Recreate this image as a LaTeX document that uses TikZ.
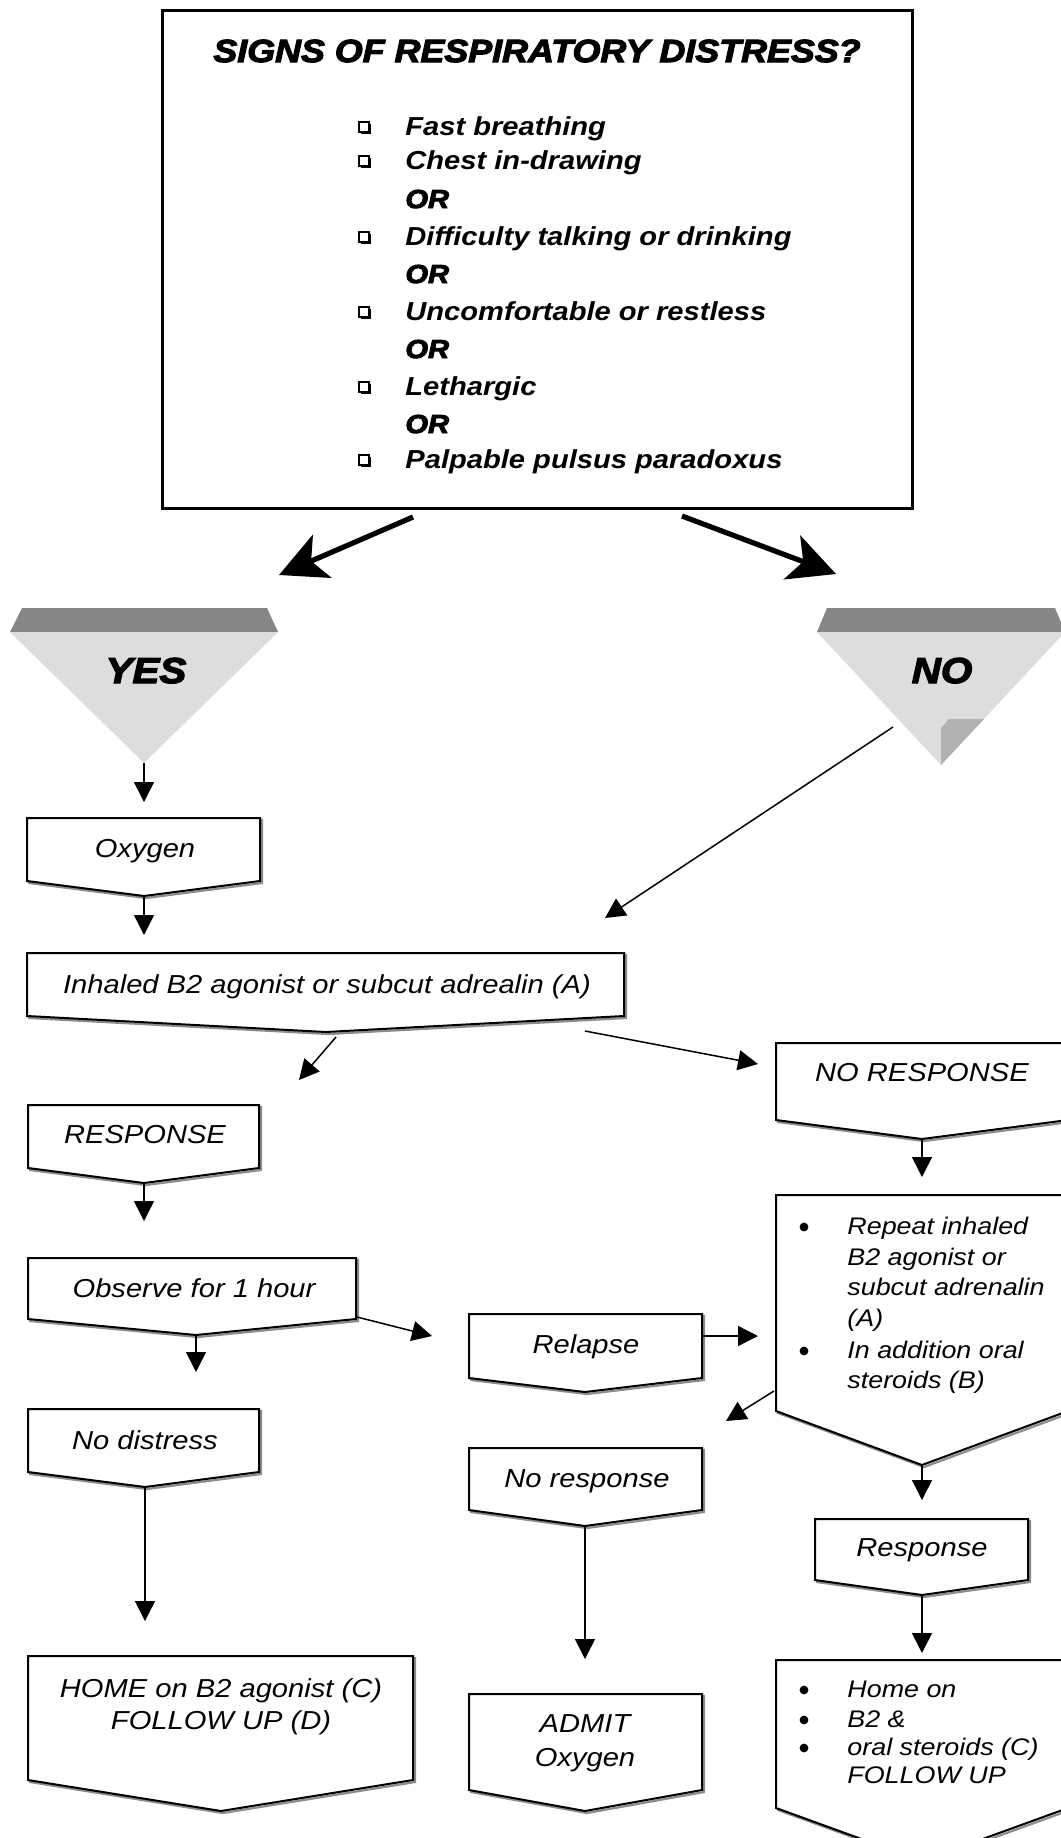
\documentclass[tikz,border=0pt]{standalone}
\usepackage{fontspec}
\setmainfont{Liberation Sans}[FakeStretch=1.12]
\newfontfamily\heavyfont{Liberation Sans}[FakeStretch=1.12,FakeBold=3.5]
\usetikzlibrary{arrows.meta}
\definecolor{bandgray}{HTML}{868686}
\definecolor{trigray}{HTML}{DDDDDD}
\definecolor{foldgray}{HTML}{B2B2B2}
\definecolor{shadowgray}{HTML}{8C8C8C}
\tikzset{
  boxline/.style={draw=black, line width=1pt, fill=white, line join=miter},
  boxshadow/.style={draw=shadowgray, line width=1.1pt},
  thinarrow/.style={line width=0.75pt, -{Triangle[length=10pt,width=10pt]}},
  bigarrow/.style={line width=2.6pt, -{Stealth[length=23.5pt,width=23.5pt,inset=6pt]}},
  lbl/.style={font=\fontsize{13}{15.5}\selectfont\itshape, inner sep=0pt, anchor=base},
  blbl/.style={font=\fontsize{12}{14}\selectfont\itshape, inner sep=0pt, anchor=base west},
  bul/.style={circle, fill=black, inner sep=0pt, minimum size=4.4pt},
  item/.style={font=\fontsize{13}{15}\selectfont\bfseries\itshape, inner sep=0pt, anchor=base west},
  ortext/.style={font=\heavyfont\fontsize{13}{15}\selectfont\bfseries\itshape, inner sep=0pt, anchor=base west},
  titletext/.style={font=\heavyfont\fontsize{16}{18}\selectfont\bfseries\itshape, inner sep=0pt, anchor=base},
  yesno/.style={font=\heavyfont\fontsize{18}{20}\selectfont\bfseries\itshape, inner sep=0pt, anchor=base},
  chkbox/.pic={
    \draw[line width=0.75pt] (-5,-5) rectangle (5,5);
    \fill (-3.5,5) rectangle (7,7);
    \fill (5,-3.5) rectangle (7,7);
  }
}
% offpage-connector box: x1, y1 (top), x2, y of side bottoms, y of point, x of point
\newcommand\opbox[6]{%
  \draw[boxshadow] (#1+2,#2+2) -- (#3+2,#2+2) -- (#3+2,#4+2) -- (#6+2,#5+2) -- (#1+2,#4+2) -- cycle;
  \draw[boxline] (#1,#2) -- (#3,#2) -- (#3,#4) -- (#6,#5) -- (#1,#4) -- cycle;
}
\begin{document}
\begin{tikzpicture}[x=0.5pt,y=-0.5pt]
\useasboundingbox (0,0) rectangle (1061,1838);
\fill[white] (0,0) rectangle (1061,1838);
\clip (0,0) rectangle (1061,1838);

% ---------- top question box ----------
\node[draw, line width=1.5pt, minimum width=375pt, minimum height=249pt, inner sep=0pt] (signs) at (537,259) {};
\node[titletext] (title) at (537,62) {SIGNS OF RESPIRATORY DISTRESS?};
\node[item] (i1) at (405,135) {Fast breathing};
\node[item] (i2) at (405,169) {Chest in-drawing};
\node[ortext] (or1) at (405,208) {OR};
\node[item] (i3) at (405,245) {Difficulty talking or drinking};
\node[ortext] (or2) at (405,283) {OR};
\node[item] (i4) at (405,320) {Uncomfortable or restless};
\node[ortext] (or3) at (405,358) {OR};
\node[item] (i5) at (405,395) {Lethargic};
\node[ortext] (or4) at (405,433) {OR};
\node[item] (i6) at (405,468) {Palpable pulsus paradoxus};
\pic at (364,127) {chkbox};
\pic at (364,161) {chkbox};
\pic at (364,237) {chkbox};
\pic at (364,312) {chkbox};
\pic at (364,387) {chkbox};
\pic at (364,460) {chkbox};

% ---------- YES / NO triangles ----------
\fill[bandgray] (22,608) -- (267,608) -- (278,632) -- (10,632) -- cycle;
\fill[trigray] (10,632) -- (278,632) -- (144,763) -- cycle;
\node[yesno] (yes) at (146,683) {YES};
\fill[bandgray] (827,608) -- (1055,608) -- (1065,632) -- (817,632) -- cycle;
\fill[trigray] (817,632) -- (1065,632) -- (941,765) -- cycle;
\fill[foldgray] (941,728) -- (949,719) -- (984,719) -- (941,765) -- cycle;
\node[yesno] (no) at (942,683) {NO};

% ---------- boxes ----------
\opbox{27}{818}{260}{881}{896}{144}
\node[lbl] (oxyT) at (145,857) {Oxygen};
\opbox{27}{953}{624}{1016}{1032}{326}
\node[lbl] (inhT) at (327,993) {Inhaled B2 agonist or subcut adrealin (A)};
\opbox{28}{1105}{259}{1168}{1183}{144}
\node[lbl] (respT) at (145,1143) {RESPONSE};
\opbox{28}{1258}{356}{1319}{1335}{196}
\node[lbl] (obsT) at (194,1297) {Observe for 1 hour};
\opbox{469}{1314}{702}{1378}{1392}{585}
\node[lbl] (relT) at (586,1353) {Relapse};
\opbox{28}{1409}{259}{1472}{1487}{145}
\node[lbl] (nodT) at (145,1449) {No distress};
\opbox{28}{1656}{413}{1780}{1811}{221}
\node[lbl] (homeT1) at (221,1697) {HOME on B2 agonist (C)};
\node[lbl] (homeT2) at (221,1729) {FOLLOW UP (D)};
\opbox{469}{1448}{702}{1510}{1526}{585}
\node[lbl] (norT) at (587,1487) {No response};
\opbox{469}{1694}{702}{1790}{1811}{585}
\node[lbl] (admT1) at (585,1732) {ADMIT};
\node[lbl] (admT2) at (585,1766) {Oxygen};
\opbox{776}{1043}{1068}{1120}{1139}{922}
\node[lbl] (nrT) at (922,1081) {NO RESPONSE};
\opbox{776}{1195}{1068}{1411}{1465}{922}
\node[bul] (rb1) at (804,1227) {};
\node[blbl] (rep1) at (847,1234) {Repeat inhaled};
\node[blbl] (rep2) at (847,1265) {B2 agonist or};
\node[blbl] (rep3) at (847,1295) {subcut adrenalin};
\node[blbl] (rep4) at (847,1326) {(A)};
\node[bul] (rb2) at (804,1351) {};
\node[blbl] (rep5) at (847,1358) {In addition oral};
\node[blbl] (rep6) at (847,1388) {steroids (B)};
\opbox{815}{1519}{1028}{1580}{1595}{922}
\node[lbl] (rspT) at (922,1556) {Response};
\opbox{776}{1660}{1068}{1808}{1861}{922}
\node[bul] (hb1) at (804,1690) {};
\node[blbl] (hm1) at (847,1697) {Home on};
\node[bul] (hb2) at (804,1720) {};
\node[blbl] (hm2) at (847,1727) {B2 \&};
\node[bul] (hb3) at (804,1748) {};
\node[blbl] (hm3) at (847,1755) {oral steroids (C)};
\node[blbl] (hm4) at (847,1783) {FOLLOW UP};

% ---------- connector end points ----------
\coordinate (signsL) at (413,517);
\coordinate (yesIn) at (279,575);
\coordinate (signsR) at (682,516);
\coordinate (noIn) at (836,574);
\coordinate (yesTip) at (144,763);
\coordinate (oxyIn) at (144,802);
\coordinate (oxyTip) at (144,896);
\coordinate (inhIn) at (144,935);
\coordinate (noOut) at (893,727);
\coordinate (inhIn2) at (605,918);
\coordinate (inhOutL) at (336,1037);
\coordinate (respIn) at (299,1080);
\coordinate (inhOutR) at (585,1031);
\coordinate (nrIn) at (758,1064);
\coordinate (respTip) at (144,1183);
\coordinate (obsIn) at (144,1221);
\coordinate (obsTip) at (196,1335);
\coordinate (nodIn) at (196,1372);
\coordinate (obsOut) at (357,1317);
\coordinate (relIn) at (432,1336);
\coordinate (nodTip) at (145,1487);
\coordinate (homeIn) at (145,1621);
\coordinate (relOut) at (702,1336);
\coordinate (repIn) at (758,1336);
\coordinate (repOut) at (774,1391);
\coordinate (norIn) at (726,1421);
\coordinate (norTip) at (585,1526);
\coordinate (admIn) at (585,1659);
\coordinate (nrTip) at (922,1139);
\coordinate (repIn2) at (922,1177);
\coordinate (repTip) at (922,1465);
\coordinate (rspIn) at (922,1500);
\coordinate (rspTip) at (922,1595);
\coordinate (hmIn) at (922,1653);

% ---------- connectors ----------
\draw[bigarrow] (signsL) -- (yesIn);
\draw[bigarrow] (signsR) -- (noIn);
\draw[thinarrow] (yesTip) -- (oxyIn);
\draw[thinarrow] (oxyTip) -- (inhIn);
\draw[thinarrow] (noOut) -- (inhIn2);
\draw[thinarrow] (inhOutL) -- (respIn);
\draw[thinarrow] (inhOutR) -- (nrIn);
\draw[thinarrow] (respTip) -- (obsIn);
\draw[thinarrow] (obsTip) -- (nodIn);
\draw[thinarrow] (obsOut) -- (relIn);
\draw[thinarrow] (nodTip) -- (homeIn);
\draw[thinarrow] (relOut) -- (repIn);
\draw[thinarrow] (repOut) -- (norIn);
\draw[thinarrow] (norTip) -- (admIn);
\draw[thinarrow] (nrTip) -- (repIn2);
\draw[thinarrow] (repTip) -- (rspIn);
\draw[thinarrow] (rspTip) -- (hmIn);
\end{tikzpicture}
\end{document}
